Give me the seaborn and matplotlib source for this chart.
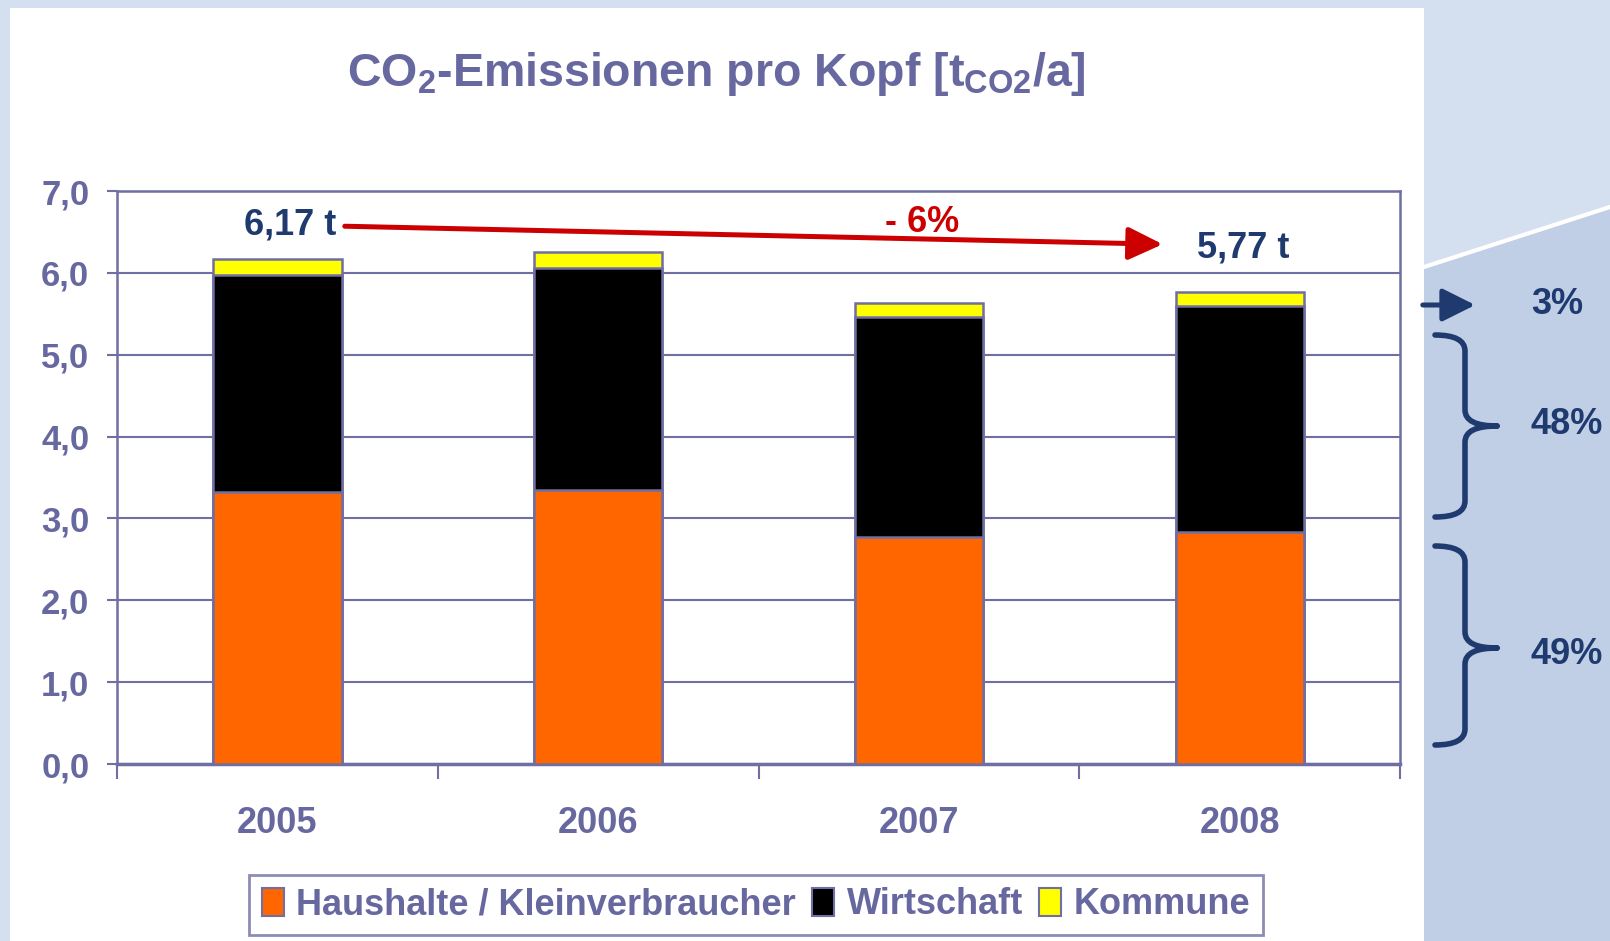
import numpy as np
import pandas as pd
import seaborn as sns
import matplotlib.pyplot as plt
from matplotlib.path import Path
from matplotlib.patches import PathPatch, Polygon, Rectangle, FancyArrowPatch, Patch
from matplotlib.transforms import Affine2D
from matplotlib.ticker import FuncFormatter, FixedLocator

# Data
years = ["2005", "2006", "2007", "2008"]
haushalte = [3.32, 3.35, 2.77, 2.83]
wirtschaft = [2.65, 2.71, 2.69, 2.76]
kommune = [0.20, 0.20, 0.17, 0.18]
series_names = ["Haushalte / Kleinverbraucher", "Wirtschaft", "Kommune"]
series_colors = ["#ff6600", "#000000", "#ffff00"]
share_labels = ["3%", "48%", "49%"]
total_labels = ["6,17 t", "5,77 t"]
change_label = "- 6%"

EDGE = "#6f6fa3"
LAV = "#6868a0"
NAVY = "#1f3a6e"
RED = "#cc0000"

sns.set_theme(style="white")
plt.rcParams["font.family"] = ["Liberation Sans", "DejaVu Sans"]
plt.rcParams["font.weight"] = "bold"
plt.rcParams["mathtext.fontset"] = "custom"
plt.rcParams["mathtext.rm"] = "Liberation Sans:bold"
plt.rcParams["mathtext.default"] = "rm"

df = pd.DataFrame({"Jahr": years, "H": haushalte, "W": wirtschaft, "K": kommune})
df["HW"] = df["H"] + df["W"]
df["HWK"] = df["HW"] + df["K"]

fig = plt.figure(figsize=(16.1, 9.41), dpi=100)
fig.patch.set_facecolor("#d4e0f0")

# pixel helper (origin top-left of the 1610x941 image)
pix = Affine2D().scale(1 / 1610, -1 / 941).translate(0, 1) + fig.transFigure

# background pieces
fig.patches.append(Polygon([(1424, 267), (1610, 207), (1610, 941), (1424, 941)],
                           closed=True, transform=pix, facecolor="#c0cfe6",
                           edgecolor="none", zorder=0))
fig.lines.append(plt.Line2D([1424, 1610], [267, 207], transform=pix,
                            color="white", lw=3, zorder=0.5))
fig.patches.append(Rectangle((10, 941), 1414, -933, transform=pix,
                             facecolor="white", edgecolor="none", zorder=1))

ax = fig.add_axes([0.0727, 0.188, 0.7969, 0.609])
ax.set_zorder(2)
ax.set_facecolor("white")

for col, color in zip(["HWK", "HW", "H"], series_colors[::-1]):
    sns.barplot(data=df, x="Jahr", y=col, color=color, width=0.4,
                edgecolor=EDGE, linewidth=1.8, saturation=1, ax=ax, zorder=3)

ax.set_xlim(-0.5, 3.5)
ax.set_ylim(0, 7)
ax.set_yticks(np.arange(0, 7.01, 1))
ax.yaxis.set_major_formatter(FuncFormatter(lambda v, p: f"{v:.1f}".replace(".", ",")))
ax.yaxis.grid(True, color=EDGE, lw=1.5, zorder=0)
ax.set_axisbelow(True)
ax.set_xlabel("")
ax.set_ylabel("")
for s in ax.spines.values():
    s.set_color(EDGE)
    s.set_linewidth(1.8)
ax.spines["bottom"].set_linewidth(2.5)

ax.tick_params(axis="x", which="major", length=0, pad=30, labelsize=26, labelcolor=LAV)
ax.xaxis.set_minor_locator(FixedLocator([-0.5, 0.5, 1.5, 2.5, 3.5]))
ax.tick_params(axis="x", which="minor", bottom=True, length=11, width=1.5, color=EDGE)
ax.tick_params(axis="y", left=True, length=7, width=1.5, color=EDGE, pad=13,
               labelsize=25, labelcolor=LAV)
for lab in ax.get_xticklabels() + ax.get_yticklabels():
    lab.set_fontweight("bold")

# totals and trend arrow
ax.text(0.04, 6.58, total_labels[0], ha="center", va="center", fontsize=26,
        fontweight="bold", color=NAVY, zorder=5)
ax.text(3.01, 6.31, total_labels[1], ha="center", va="center", fontsize=26,
        fontweight="bold", color=NAVY, zorder=5)
ax.annotate("", xy=(2.76, 6.35), xytext=(0.21, 6.57),
            arrowprops=dict(arrowstyle="-|>,head_length=21,head_width=10",
                            mutation_scale=1, lw=3.6, color=RED,
                            shrinkA=0, shrinkB=0), zorder=5)
ax.text(2.01, 6.62, change_label, ha="center", va="center", fontsize=26,
        fontweight="bold", color=RED, zorder=5)

# title
fig.text(0.4447, 0.921, "CO$_2$-Emissionen pro Kopf [t$_{CO2}$/a]", ha="center",
         va="center", fontsize=33.5, fontweight="bold", color=LAV, zorder=5)

# legend
handles = [Patch(facecolor=c, edgecolor=EDGE, lw=1.5) for c in series_colors]
leg = fig.legend(handles, series_names, loc="center", bbox_to_anchor=(0.4696, 0.0383),
                 ncol=3, fontsize=26, frameon=True, fancybox=False, handlelength=0.6,
                 handleheight=0.85, handletextpad=0.35, columnspacing=0.45,
                 borderpad=0.35, borderaxespad=0)
leg.get_frame().set_edgecolor(EDGE)
leg.get_frame().set_linewidth(2)
leg.set_zorder(6)
for t in leg.get_texts():
    t.set_color(LAV)
    t.set_fontweight("bold")


def brace(y_top, y_mid, y_bot, x0=1435, xs=1465, xt=1497, r=16):
    verts = [(x0, y_top), (xs, y_top), (xs, y_top + r),
             (xs, y_mid - r),
             (xs, y_mid), (xt, y_mid),
             (xt, y_mid), (xs, y_mid), (xs, y_mid + r),
             (xs, y_bot - r),
             (xs, y_bot), (x0, y_bot)]
    codes = [Path.MOVETO, Path.CURVE3, Path.CURVE3, Path.LINETO,
             Path.CURVE3, Path.CURVE3,
             Path.MOVETO, Path.CURVE3, Path.CURVE3, Path.LINETO,
             Path.CURVE3, Path.CURVE3]
    fig.patches.append(PathPatch(Path(verts, codes), transform=pix, facecolor="none",
                                 edgecolor=NAVY, lw=4, capstyle="round",
                                 joinstyle="round", zorder=5))


brace(335, 426, 517)
brace(546, 648, 745)
fig.patches.append(FancyArrowPatch((1420, 305), (1478, 305), transform=pix,
                                   arrowstyle="-|>,head_length=20,head_width=10",
                                   mutation_scale=1, lw=3.6, color=NAVY, zorder=5))
for lab, y in zip(share_labels, [305, 425, 654]):
    x = 1557 if lab == "3%" else 1567
    fig.text(x / 1610, 1 - y / 941, lab, ha="center", va="center", fontsize=26,
             fontweight="bold", color=NAVY, zorder=5)

fig.savefig("out.png", dpi=100, facecolor=fig.get_facecolor())
